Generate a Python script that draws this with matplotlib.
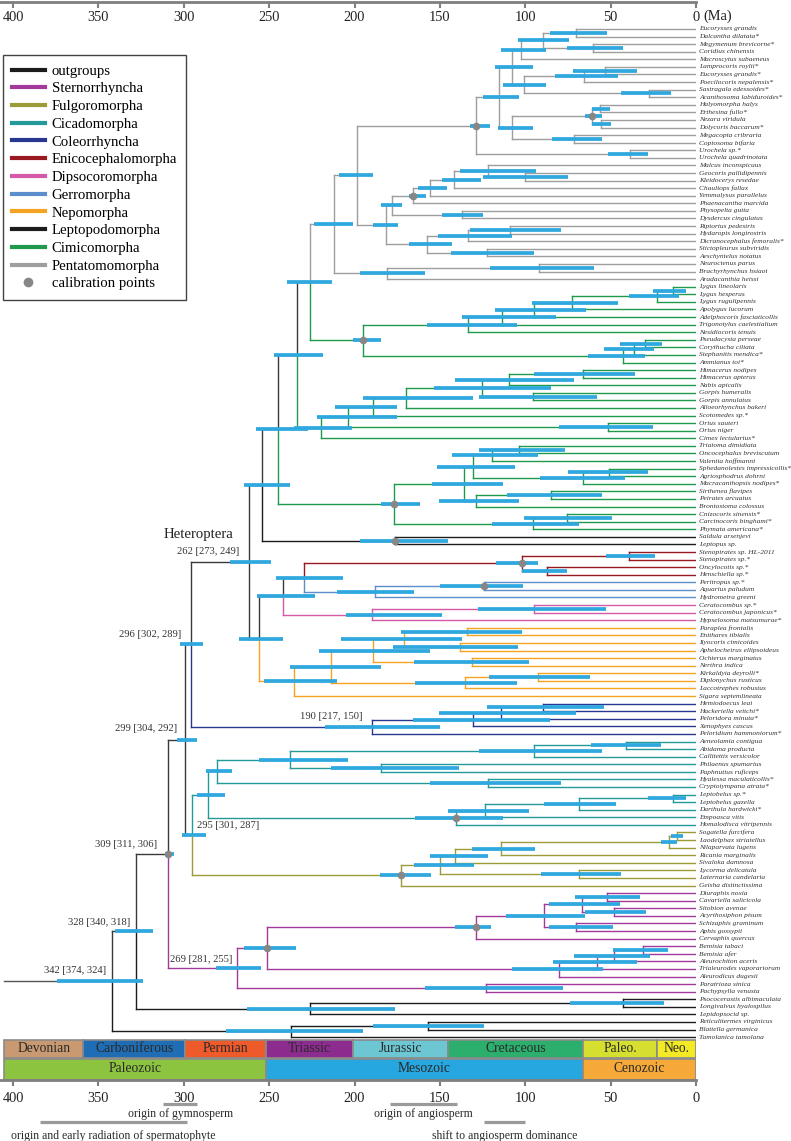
import matplotlib
matplotlib.use("Agg")
import matplotlib.pyplot as plt
from matplotlib.lines import Line2D

plt.rcParams["font.family"] = ["Liberation Serif", "DejaVu Serif"]

# ── leaves, top to bottom ─────────────────────────────────────────────
TAXA = [
    "Eucorysses grandis", "Dalcantha dilatata*", "Megymenum brevicorne*", "Coridius chinensis",
    "Macroscytus subaeneus", "Lamprocoris roylii*", "Eucorysses grandis*", "Poecilocoris nepalensis*",
    "Sastragala edessoides*", "Acanthosoma labiduroides*", "Halyomorpha halys", "Erthesina fullo*",
    "Nezara viridula", "Dolycoris baccarum*", "Megacopta cribraria", "Coptosoma bifaria",
    "Urochela sp.*", "Urochela quadrinotata", "Malcus inconspicuus", "Geocoris pallidipennis",
    "Kleidocerys resedae", "Chauliops fallax", "Yemmalysus parallelus", "Phaenacantha marcida",
    "Physopelta gutta", "Dysdercus cingulatus", "Riptortus pedestris", "Hydaropis longirostris",
    "Dicranocephalus femoralis*", "Stictopleurus subviridis", "Aeschyntelus notatus", "Neuroctenus parus",
    "Brachyrhynchus hsiaoi", "Aradacanthia heissi", "Lygus lineolaris", "Lygus hesperus",
    "Lygus rugulipennis", "Apolygus lucorum", "Adelphocoris fasciaticollis", "Trigonotylus caelestialium",
    "Nesidiocoris tenuis", "Pseudacysta perseae", "Corythucha ciliata", "Stephanitis mendica*",
    "Ammianus toi*", "Himacerus nodipes", "Himacerus apterus", "Nabis apicalis",
    "Gorpis humeralis", "Gorpis annulatus", "Alloeorhynchus bakeri", "Scotomedes sp.*",
    "Orius sauteri", "Orius niger", "Cimex lectularius*", "Triatoma dimidiata",
    "Oncocephalus breviscutum", "Valentia hoffmanni", "Sphedanolestes impressicollis*", "Agriosphodrus dohrni",
    "Macracanthopsis nodipes*", "Sirthenea flavipes", "Peirates arcuatus", "Brontostoma colossus",
    "Cnizocoris sinensis*", "Carcinocoris binghami*", "Phymata americana*", "Saldula arsenjevi",
    "Leptopus sp.", "Stenopirates sp. HL-2011", "Stenopirates sp.*", "Oncylocotis sp.*",
    "Henschiella sp.*", "Peritropus sp.*", "Aquarius paludum", "Hydrometra greeni",
    "Ceratocombus sp.*", "Ceratocombus japonicus*", "Hypselosoma matsumurae*", "Paraplea frontalis",
    "Enithares tibialis", "Ilyocoris cimicoides", "Aphelocheirus ellipsoideus", "Ochterus marginatus",
    "Nerthra indica", "Kirkaldyia deyrolli*", "Diplonychus rusticus", "Laccotrephes robustus",
    "Sigara septemlineata", "Hemiodoecus leai", "Hackeriella veitchi*", "Peloridora minuta*",
    "Xenophyes cascus", "Peloridium hammoniorum*", "Aeneolamia contigua", "Abidama producta",
    "Callitettix versicolor", "Philaenus spumarius", "Paphnutius ruficeps", "Hyalessa maculaticollis*",
    "Cryptotympana atrata*", "Leptobelus sp.*", "Leptobelus gazella", "Darthula hardwicki*",
    "Empoasca vitis", "Homalodisca vitripennis", "Sogatella furcifera", "Laodelphax striatellus",
    "Nilaparvata lugens", "Ricania marginalis", "Sivaloka damnosa", "Lycorma delicatula",
    "Laternaria candelaria", "Geisha distinctissima", "Diuraphis noxia", "Cavariella salicicola",
    "Sitobion avenae", "Acyrthosiphon pisum", "Schizaphis graminum", "Aphis gossypii",
    "Cervaphis quercus", "Bemisia tabaci", "Bemisia afer", "Aleurochiton aceris",
    "Trialeurodes vaporariorum", "Aleurodicus dugesii", "Paratrioza sinica", "Pachypsylla venusta",
    "Psococerastis albimaculata", "Longivalvus hyalospilus", "Lepidopsocid sp.", "Reticulitermes virginicus",
    "Blattella germanica", "Tamolanica tamolana",
]

# ── internal nodes: (id, child, child, age Ma, 95% HPD low, high) ─────
NODES = [
    # Pentatomomorpha
    ("ed", "Eucorysses grandis", "Dalcantha dilatata*", 70.5, 52.3, 85.5),
    ("mc", "Megymenum brevicorne*", "Coridius chinensis", 60.1, 42.6, 75.7),
    ("dino", "ed", "mc", 89.8, 74.2, 104.0),
    ("cyd", "dino", "Macroscytus subaeneus", 102.7, 88.0, 114.2),
    ("le", "Lamprocoris roylii*", "Eucorysses grandis*", 53.3, 34.7, 71.9),
    ("scut", "le", "Poecilocoris nepalensis*", 65.6, 45.5, 82.6),
    ("acan", "Sastragala edessoides*", "Acanthosoma labiduroides*", 27.3, 14.6, 43.9),
    ("sa", "scut", "acan", 101.0, 88.0, 113.0),
    ("pa", "cyd", "sa", 107.6, 95.6, 118.0),
    ("hf", "Halyomorpha halys", "Erthesina fullo*", 56.2, 50.4, 61.0),
    ("nd", "Nezara viridula", "Dolycoris baccarum*", 55.6, 50.0, 60.7),
    ("pent", "hf", "nd", 60.7, 55.2, 65.0),
    ("plat", "Megacopta cribraria", "Coptosoma bifaria", 71.4, 55.2, 84.5),
    ("pp", "pent", "plat", 107.6, 95.6, 116.2),
    ("pp2", "pa", "pp", 115.1, 103.7, 124.6),
    ("uro", "Urochela sp.*", "Urochela quadrinotata", 38.7, 27.9, 51.4),
    ("pentoid", "pp2", "uro", 128.8, 120.6, 132.4),
    ("gk", "Geocoris pallidipennis", "Kleidocerys resedae", 100.0, 75.0, 125.0),
    ("mgk", "Malcus inconspicuus", "gk", 121.6, 93.7, 138.0),
    ("mgkc", "mgk", "Chauliops fallax", 141.7, 125.9, 148.6),
    ("my", "mgkc", "Yemmalysus parallelus", 155.8, 145.6, 162.6),
    ("lyg", "my", "Phaenacantha marcida", 165.5, 158.3, 168.0),
    ("pyr", "Physopelta gutta", "Dysdercus cingulatus", 137.0, 125.0, 148.6),
    ("lp", "lyg", "pyr", 178.2, 172.0, 184.7),
    ("rh", "Riptortus pedestris", "Hydaropis longirostris", 109.2, 79.0, 132.4),
    ("rhd", "rh", "Dicranocephalus femoralis*", 133.8, 108.0, 151.3),
    ("st", "Stictopleurus subviridis", "Aeschyntelus notatus", 122.2, 94.7, 143.5),
    ("core", "rhd", "st", 157.3, 143.0, 168.0),
    ("lpc", "lp", "core", 181.7, 174.4, 189.0),
    ("tri", "pentoid", "lpc", 198.7, 189.0, 209.0),
    ("nb", "Neuroctenus parus", "Brachyrhynchus hsiaoi", 91.8, 59.7, 120.6),
    ("arad", "nb", "Aradacanthia heissi", 180.8, 158.7, 196.8),
    ("pento", "tri", "arad", 212.0, 201.0, 224.0),
    # Cimicomorpha
    ("ll", "Lygus lineolaris", "Lygus hesperus", 13.3, 5.9, 25.0),
    ("lyg3", "ll", "Lygus rugulipennis", 23.0, 10.0, 39.0),
    ("la", "lyg3", "Apolygus lucorum", 72.4, 45.5, 96.2),
    ("ad", "la", "Adelphocoris fasciaticollis", 94.7, 64.4, 117.7),
    ("tr", "ad", "Trigonotylus caelestialium", 113.4, 82.2, 137.2),
    ("mir", "tr", "Nesidiocoris tenuis", 133.3, 105.0, 157.4),
    ("pc", "Pseudacysta perseae", "Corythucha ciliata", 29.9, 20.0, 44.5),
    ("pcs", "pc", "Stephanitis mendica*", 36.3, 24.4, 53.7),
    ("ting", "pcs", "Ammianus toi*", 42.6, 30.0, 63.0),
    ("mt", "mir", "ting", 195.2, 184.5, 200.7),
    ("D", "pento", "mt", 226.0, 213.0, 239.7),
    ("him", "Himacerus nodipes", "Himacerus apterus", 66.0, 35.7, 94.7),
    ("hn", "him", "Nabis apicalis", 109.8, 71.3, 141.0),
    ("gor", "Gorpis humeralis", "Gorpis annulatus", 95.3, 58.0, 127.0),
    ("nab", "hn", "gor", 125.5, 85.0, 153.4),
    ("al", "nab", "Alloeorhynchus bakeri", 170.0, 130.4, 195.0),
    ("sc", "al", "Scotomedes sp.*", 189.0, 175.3, 211.4),
    ("ori", "Orius sauteri", "Orius niger", 51.7, 25.4, 80.0),
    ("G", "sc", "ori", 203.6, 175.0, 222.0),
    ("F", "G", "Cimex lectularius*", 219.6, 201.6, 235.4),
    ("C", "D", "F", 233.9, 218.6, 247.0),
    ("to", "Triatoma dimidiata", "Oncocephalus breviscutum", 103.5, 76.7, 127.0),
    ("tov", "to", "Valentia hoffmanni", 119.7, 92.7, 143.0),
    ("spag", "Sphedanolestes impressicollis*", "Agriosphodrus dohrni", 51.0, 28.3, 74.8),
    ("harp", "spag", "Macracanthopsis nodipes*", 66.0, 41.6, 91.4),
    ("rh2", "tov", "harp", 130.8, 106.0, 151.5),
    ("sp", "Sirthenea flavipes", "Peirates arcuatus", 85.0, 55.2, 110.9),
    ("spb", "sp", "Brontostoma colossus", 128.8, 103.7, 150.5),
    ("red", "rh2", "spb", 135.6, 112.9, 154.4),
    ("cc", "Cnizocoris sinensis*", "Carcinocoris binghami*", 75.7, 49.4, 100.5),
    ("phy", "cc", "Phymata americana*", 95.7, 68.3, 119.3),
    ("redu", "red", "phy", 176.9, 161.6, 184.5),
    ("B", "C", "redu", 245.0, 227.4, 257.7),
    ("lepto", "Saldula arsenjevi", "Leptopus sp.", 176.0, 145.0, 197.0),
    ("A", "B", "lepto", 254.0, 237.8, 265.0),
    # Enicocephalomorpha .. Nepomorpha
    ("sten", "Stenopirates sp. HL-2011", "Stenopirates sp.*", 39.0, 24.0, 53.0),
    ("oh", "Oncylocotis sp.*", "Henschiella sp.*", 87.4, 75.7, 102.0),
    ("enico", "sten", "oh", 102.0, 92.7, 117.0),
    ("pq", "Peritropus sp.*", "Aquarius paludum", 124.0, 101.5, 150.0),
    ("gerr", "pq", "Hydrometra greeni", 188.0, 165.0, 210.0),
    ("eg", "enico", "gerr", 229.4, 207.0, 246.0),
    ("cer", "Ceratocombus sp.*", "Ceratocombus japonicus*", 95.0, 52.7, 127.7),
    ("dip", "cer", "Hypselosoma matsumurae*", 189.6, 149.0, 205.0),
    ("egd", "eg", "dip", 242.0, 223.0, 257.0),
    ("pe", "Paraplea frontalis", "Enithares tibialis", 134.0, 102.0, 173.0),
    ("ia", "Ilyocoris cimicoides", "Aphelocheirus ellipsoideus", 138.0, 104.0, 177.6),
    ("pi", "pe", "ia", 171.0, 137.0, 208.0),
    ("on", "Ochterus marginatus", "Nerthra indica", 131.4, 98.0, 165.0),
    ("pio", "pi", "on", 189.3, 156.0, 221.0),
    ("kd", "Kirkaldyia deyrolli*", "Diplonychus rusticus", 92.7, 62.0, 121.0),
    ("kdl", "kd", "Laccotrephes robustus", 135.0, 105.0, 164.5),
    ("nep1", "pio", "kdl", 214.0, 184.5, 238.0),
    ("nepo", "nep1", "Sigara septemlineata", 235.4, 210.0, 253.0),
    ("egdn", "egd", "nepo", 256.0, 242.0, 267.6),
    ("het", "A", "egdn", 262.0, 249.0, 273.0),
    # Coleorrhyncha
    ("hh", "Hemiodoecus leai", "Hackeriella veitchi*", 89.6, 54.0, 122.6),
    ("hhp", "hh", "Peloridora minuta*", 114.0, 70.5, 150.5),
    ("hhpx", "hhp", "Xenophyes cascus", 130.5, 85.5, 166.0),
    ("cole", "hhpx", "Peloridium hammoniorum*", 190.0, 150.0, 217.0),
    ("n296", "het", "cole", 296.0, 289.0, 302.0),
    # Auchenorrhyncha
    ("aa", "Aeneolamia contigua", "Abidama producta", 41.0, 20.5, 61.5),
    ("aac", "aa", "Callitettix versicolor", 95.0, 55.0, 127.0),
    ("php", "Philaenus spumarius", "Paphnutius ruficeps", 184.5, 139.0, 214.0),
    ("cerc", "aac", "php", 237.8, 204.0, 256.0),
    ("cic", "Hyalessa maculaticollis*", "Cryptotympana atrata*", 122.0, 79.0, 156.0),
    ("cc2", "cerc", "cic", 280.6, 272.0, 287.0),
    ("lep", "Leptobelus sp.*", "Leptobelus gazella", 13.5, 6.0, 28.0),
    ("memb", "lep", "Darthula hardwicki*", 68.5, 47.0, 89.0),
    ("me", "memb", "Empoasca vitis", 123.5, 98.0, 145.0),
    ("meh", "me", "Homalodisca vitripennis", 140.8, 113.0, 164.5),
    ("cica", "cc2", "meh", 285.6, 276.0, 292.0),
    ("sl", "Sogatella furcifera", "Laodelphax striatellus", 11.0, 7.6, 14.6),
    ("sln", "sl", "Nilaparvata lugens", 15.6, 11.0, 20.5),
    ("slr", "sln", "Ricania marginalis", 114.0, 94.0, 131.0),
    ("slrs", "slr", "Sivaloka damnosa", 141.0, 122.0, 156.0),
    ("lyc", "Lycorma delicatula", "Laternaria candelaria", 68.5, 44.0, 90.5),
    ("fl", "slrs", "lyc", 150.0, 130.0, 165.0),
    ("fulg", "fl", "Geisha distinctissima", 173.0, 155.0, 185.0),
    ("n295", "cica", "fulg", 295.0, 287.0, 301.0),
    ("n299", "n296", "n295", 299.0, 292.0, 304.0),
    # Sternorrhyncha
    ("dc", "Diuraphis noxia", "Cavariella salicicola", 52.3, 33.0, 71.0),
    ("sac", "Sitobion avenae", "Acyrthosiphon pisum", 47.8, 29.0, 65.0),
    ("macro", "dc", "sac", 66.6, 44.5, 86.0),
    ("aphini", "Schizaphis graminum", "Aphis gossypii", 70.0, 48.8, 86.0),
    ("ma", "macro", "aphini", 89.0, 65.0, 111.0),
    ("aph", "ma", "Cervaphis quercus", 129.0, 120.0, 141.0),
    ("bb", "Bemisia tabaci", "Bemisia afer", 30.8, 16.4, 48.6),
    ("bba", "bb", "Aleurochiton aceris", 47.8, 27.0, 71.5),
    ("bbat", "bba", "Trialeurodes vaporariorum", 57.8, 34.7, 84.0),
    ("aley", "bbat", "Aleurodicus dugesii", 80.5, 54.6, 108.0),
    ("aa2", "aph", "aley", 251.5, 234.0, 264.5),
    ("psy", "Paratrioza sinica", "Pachypsylla venusta", 123.0, 78.0, 159.0),
    ("ster", "aa2", "psy", 269.0, 255.0, 281.0),
    ("n309", "n299", "ster", 309.0, 306.0, 311.0),
    # outgroups
    ("pl", "Psococerastis albimaculata", "Longivalvus hyalospilus", 43.0, 19.0, 74.0),
    ("psoc", "pl", "Lepidopsocid sp.", 226.0, 176.0, 263.0),
    ("n328", "n309", "psoc", 328.0, 318.0, 340.0),
    ("rb", "Reticulitermes virginicus", "Blattella germanica", 157.0, 124.0, 189.0),
    ("blat", "rb", "Tamolanica tamolana", 237.0, 195.0, 275.0),
    ("n342", "n328", "blat", 342.0, 324.0, 374.0),
]
ROOT = "n342"
ROOT_STEM_AGE = 405.0

CALIBRATED = ["pentoid", "pent", "lyg", "mt", "redu", "lepto", "enico", "pq",
              "meh", "fulg", "aph", "aa2", "n309"]

CLADE_ROOTS = {
    "ster": "Sternorrhyncha", "fulg": "Fulgoromorpha", "cica": "Cicadomorpha",
    "cole": "Coleorrhyncha", "enico": "Enicocephalomorpha", "dip": "Dipsocoromorpha",
    "gerr": "Gerromorpha", "nepo": "Nepomorpha", "lepto": "Leptopodomorpha",
    "mt": "Cimicomorpha", "F": "Cimicomorpha", "redu": "Cimicomorpha",
    "pento": "Pentatomomorpha", "psoc": "outgroups", "blat": "outgroups",
}

GROUPS = ["outgroups", "Sternorrhyncha", "Fulgoromorpha", "Cicadomorpha", "Coleorrhyncha",
          "Enicocephalomorpha", "Dipsocoromorpha", "Gerromorpha", "Nepomorpha",
          "Leptopodomorpha", "Cimicomorpha", "Pentatomomorpha"]
GROUP_COLORS = ["#1c1c1c", "#a3399b", "#9b9b37", "#23999a", "#283891",
                "#98191f", "#d45aa8", "#5b8ecb", "#f4a422",
                "#1c1c1c", "#1f9a4c", "#9e9e9e"]
BACKBONE = "#3a3a3a"

NODE_LABELS = [("n342", "342 [374, 324]"), ("n328", "328 [340, 318]"),
               ("n309", "309 [311, 306]"), ("ster", "269 [281, 255]"),
               ("n295", "295 [301, 287]"), ("n296", "296 [302, 289]"),
               ("n299", "299 [304, 292]"), ("het", "262 [273, 249]"),
               ("cole", "190 [217, 150]")]
# label placement relative to the node, in pixels (dx, dy up, ha)
LABEL_OFFSETS = {"n342": (-6, 11, "right"), "n328": (-6, 9, "right"),
                 "n309": (-11, 9, "right"), "ster": (-4, 9, "right"),
                 "n295": (5, 9, "left"), "n296": (-9, 10, "right"),
                 "n299": (-8, 11, "right"), "het": (-9, 10, "right"),
                 "cole": (-9, 10, "right")}

PERIODS = ["Devonian", "Carboniferous", "Permian", "Triassic", "Jurassic",
           "Cretaceous", "Paleo.", "Neo."]
PERIOD_START = [405, 359, 299, 252, 201, 145, 66, 23]
PERIOD_END = [359, 299, 252, 201, 145, 66, 23, 0]
PERIOD_COLORS = ["#c99a72", "#1f6db4", "#ee5a2a", "#8d2c8f", "#6cc7d3",
                 "#2cae6c", "#d6df2f", "#f3e924"]
ERAS = ["Paleozoic", "Mesozoic", "Cenozoic"]
ERA_START = [405, 252, 66]
ERA_END = [252, 66, 0]
ERA_COLORS = ["#8cc43f", "#27a7df", "#f6a938"]

EVENTS = ["origin of gymnosperm", "origin and early radiation of spermatophyte",
          "origin of angiosperm", "shift to angiosperm dominance"]
EVENT_START = [312, 384, 179, 124]
EVENT_END = [292, 298, 140, 100]
EVENT_ROW = [0, 1, 0, 1]

TICKS = [400, 350, 300, 250, 200, 150, 100, 50, 0]

# ── layout (pixels of a 791 x 1141 figure) ─────────────────────────────
W, H = 791, 1141
PX_PER_MA = 1.7075
X0 = 696                      # pixel of 0 Ma
LEAF_Y0, LEAF_DY = 29, 7.58   # pixel of first leaf, leaf spacing
TREE_TOP, TREE_BOT = 2, 1039
TS_BOT = 1080
EVENT_BAR_Y = [24, 42]        # below TS_BOT, per row
EVENT_TEXT_DY = [9.5, 13.5]

children = {n[0]: (n[1], n[2]) for n in NODES}
age = {n[0]: n[3] for n in NODES}
hpd = {n[0]: (n[4], n[5]) for n in NODES}
ypos = {name: i + 1 for i, name in enumerate(TAXA)}


def node_y(n):
    if n not in ypos:
        a, b = children[n]
        ypos[n] = (node_y(a) + node_y(b)) / 2
    return ypos[n]


node_y(ROOT)
color_of_group = dict(zip(GROUPS, GROUP_COLORS))

fig = plt.figure(figsize=(W / 100, H / 100), dpi=100)
xmax = X0 / PX_PER_MA


def leaf_index_at(px):
    return (px - LEAF_Y0) / LEAF_DY + 1


ax = fig.add_axes([0, 1 - TREE_BOT / H, X0 / W, (TREE_BOT - TREE_TOP) / H])
ax.set_xlim(xmax, 0)
ax.set_ylim(leaf_index_at(TREE_BOT), leaf_index_at(TREE_TOP))
ax.patch.set_visible(False)
for s in ["left", "right", "bottom"]:
    ax.spines[s].set_visible(False)
ax.spines["top"].set_color("#7f7f7f")
ax.spines["top"].set_linewidth(2)
ax.set_yticks([])
ax.set_xticks(TICKS)
ax.set_xticklabels([str(t) for t in TICKS])
ax.xaxis.set_ticks_position("top")
ax.tick_params(axis="x", direction="in", length=4, width=1.5, color="#7f7f7f",
               labelsize=10.4, pad=-15.5, labelcolor="#222222")
ax.text(-4.3, leaf_index_at(16.5), "(Ma)", fontsize=10.4, ha="left", va="center",
        color="#222222")


def draw(n, col):
    for c in children[n]:
        ccol = color_of_group[CLADE_ROOTS[c]] if c in CLADE_ROOTS else col
        cx = age.get(c, 0.0)
        ax.plot([age[n], age[n]], [ypos[n], ypos[c]], color=ccol, lw=1.0, zorder=2)
        ax.plot([age[n], cx], [ypos[c], ypos[c]], color=ccol, lw=1.0, zorder=2)
        if c in children:
            draw(c, ccol)


ax.plot([ROOT_STEM_AGE, age[ROOT]], [ypos[ROOT], ypos[ROOT]], color="#555555", lw=1.0, zorder=2)
draw(ROOT, BACKBONE)

for n in children:
    lo, hi = hpd[n]
    ax.plot([lo, hi], [ypos[n], ypos[n]], color="#2ea8de", lw=2.7,
            solid_capstyle="butt", zorder=3)

ax.plot([age[n] for n in CALIBRATED], [ypos[n] for n in CALIBRATED], "o",
        color="#878787", ms=5.5, mec="none", zorder=4)

for name in TAXA:
    ax.text(-1.8, ypos[name], name, fontsize=5.3, style="italic", ha="left",
            va="center", color="#333333")

for n, txt in NODE_LABELS:
    dx, dy, ha = LABEL_OFFSETS[n]
    ax.annotate(txt, (age[n], ypos[n]), xytext=(dx * 0.72, dy * 0.72),
                textcoords="offset points", fontsize=7.6, ha=ha, va="center",
                color="#333333")
ax.annotate("Heteroptera", (age["het"], ypos["het"]), xytext=(-15 * 0.72, 27 * 0.72),
            textcoords="offset points", fontsize=10.6, ha="right", va="center",
            color="#222222")

# ── geological time scale ─────────────────────────────────────────────
axs = fig.add_axes([0, 1 - TS_BOT / H, X0 / W, (TS_BOT - TREE_BOT) / H])
axs.set_xlim(xmax, 0)
axs.set_ylim(0, TS_BOT - TREE_BOT)
axs.patch.set_visible(False)
for s in ["left", "right", "top"]:
    axs.spines[s].set_visible(False)
axs.spines["bottom"].set_color("#7f7f7f")
axs.spines["bottom"].set_linewidth(2)
axs.set_yticks([])
axs.set_xticks(TICKS)
axs.set_xticklabels([str(t) for t in TICKS])
axs.tick_params(axis="x", direction="out", length=4, width=1.5, color="#7f7f7f",
                labelsize=10.4, pad=4.5, labelcolor="#222222")

axs.barh([31] * len(PERIODS), [s - e for s, e in zip(PERIOD_START, PERIOD_END)],
         left=PERIOD_END, height=18, color=PERIOD_COLORS, edgecolor="#8a8a8a", lw=1.2)
for name, s, e in zip(PERIODS, PERIOD_START, PERIOD_END):
    axs.text((s + e) / 2, 31, name, fontsize=9.8, ha="center", va="center", color="#2a2a2a")
axs.barh([11] * len(ERAS), [s - e for s, e in zip(ERA_START, ERA_END)],
         left=ERA_END, height=21, color=ERA_COLORS, edgecolor="#8a8a8a", lw=1.2)
for name, s, e in zip(ERAS, ERA_START, ERA_END):
    axs.text((s + e) / 2, 11, name, fontsize=9.8, ha="center", va="center", color="#2a2a2a")

# ── plant events under the axis ───────────────────────────────────────
axn = fig.add_axes([0, 0, X0 / W, (H - TS_BOT) / H])
axn.set_xlim(xmax, 0)
axn.set_ylim(H - TS_BOT, 0)
axn.axis("off")
for name, s, e, row in zip(EVENTS, EVENT_START, EVENT_END, EVENT_ROW):
    yb = EVENT_BAR_Y[row]
    axn.plot([s, e], [yb, yb], color="#9a9a9a", lw=2.3, solid_capstyle="butt")
    axn.text((s + e) / 2, yb + EVENT_TEXT_DY[row], name, fontsize=8.5, ha="center",
             va="center", color="#2a2a2a")

# ── legend ────────────────────────────────────────────────────────────
handles = [Line2D([], [], color=c, lw=3) for c in GROUP_COLORS]
handles.append(Line2D([], [], ls="", marker="o", ms=7, color="#878787", mec="none"))
leg = fig.legend(handles, GROUPS + ["calibration points"], loc="upper left",
                 bbox_to_anchor=(3 / W, 1 - 55 / H), frameon=True, fancybox=False,
                 edgecolor="#444444", framealpha=1, fontsize=10.6, handlelength=2.18,
                 handletextpad=0.48, labelspacing=0.3, borderpad=0.64, borderaxespad=0)
leg.get_frame().set_linewidth(1.0)

fig.savefig("out.png", dpi=100)
